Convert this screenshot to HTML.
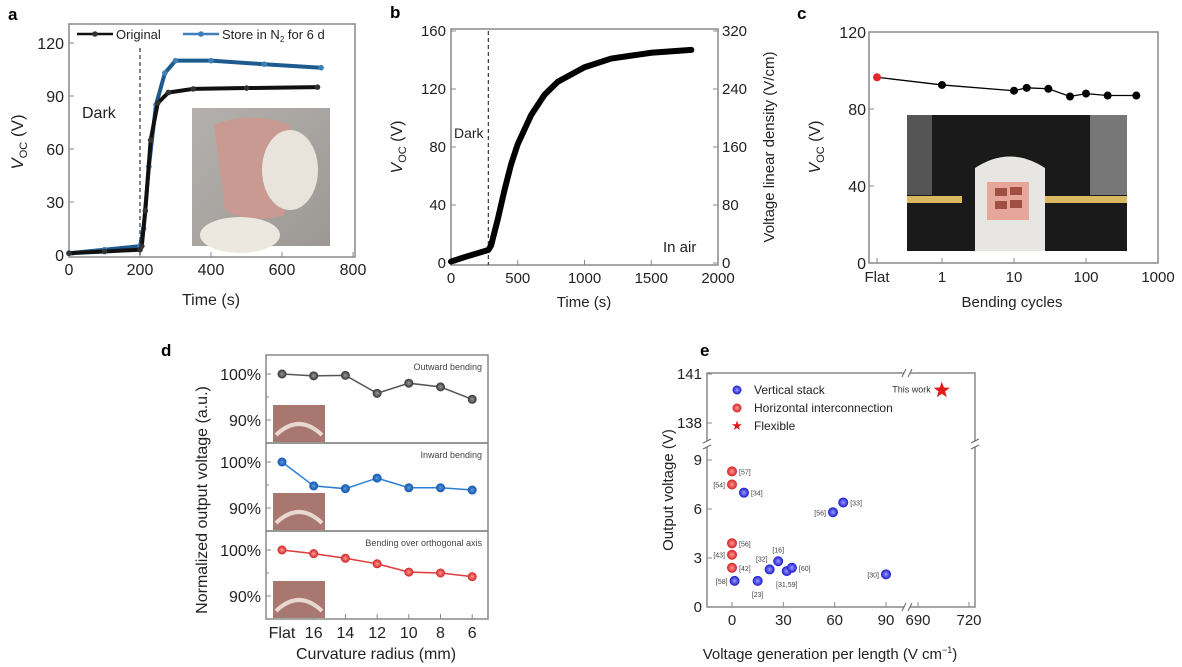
<!DOCTYPE html>
<html><head><meta charset="utf-8"><style>
body{margin:0;background:#fff}
svg{display:block;font-family:"Liberation Sans",Arial,sans-serif}
</style></head><body>
<svg id="fig" width="1182" height="667" viewBox="0 0 1182 667" xmlns="http://www.w3.org/2000/svg">
<defs>
<linearGradient id="photoA" x1="0" y1="0" x2="1" y2="1"><stop offset="0" stop-color="#b4b0ad"/><stop offset="1" stop-color="#9c9894"/></linearGradient>
<radialGradient id="ballK"><stop offset="0" stop-color="#999"/><stop offset="1" stop-color="#333"/></radialGradient>
<radialGradient id="ballB"><stop offset="0" stop-color="#8ab"/><stop offset="0.3" stop-color="#3a7fd0"/><stop offset="1" stop-color="#1257b0"/></radialGradient>
<radialGradient id="ballR"><stop offset="0" stop-color="#f99"/><stop offset="1" stop-color="#d42020"/></radialGradient>
<radialGradient id="ballV"><stop offset="0" stop-color="#99f"/><stop offset="1" stop-color="#1a1acc"/></radialGradient>
</defs>
<g id="pa"></g>
<g id="pb"></g>
<g id="pc"></g>
<g id="pd"></g>
<g id="pe"></g>
</svg>
<script>
// ---- Panel a data ----
const aTime = [0, 100, 200, 205, 215, 230, 250, 280, 350, 500, 700];
const aOriginal = [1, 2, 3, 5, 25, 65, 86, 92, 94, 94.5, 95];
const aStoredTime = [0, 100, 200, 210, 225, 245, 270, 300, 400, 550, 710];
const aStored = [1, 3, 5, 15, 50, 85, 103, 110, 110, 108, 106];
const aXTicks = [0, 200, 400, 600, 800];
const aYTicks = [0, 30, 60, 90, 120];
// ---- Panel b data ----
const bTime = [0, 100, 280, 300, 350, 400, 450, 500, 600, 700, 800, 1000, 1200, 1500, 1800];
const bVoc = [1, 4, 9, 12, 30, 50, 68, 82, 102, 116, 125, 135, 141, 145, 147];
const bXTicks = [0, 500, 1000, 1500, 2000];
const bYTicks = [0, 40, 80, 120, 160];
const bY2Ticks = [0, 80, 160, 240, 320];
// ---- Panel c data ----
const cCycles = [0, 1, 10, 15, 30, 60, 100, 200, 500];
const cVoc = [96.5, 92.5, 89.5, 91, 90.5, 86.5, 88, 87, 87];
const cXTicks = ["Flat", "1", "10", "100", "1000"];
const cYTicks = [0, 40, 80, 120];
// ---- Panel d data ----
const dCats = ["Flat", "16", "14", "12", "10", "8", "6"];
const dOutward = [100, 99.6, 99.7, 95.8, 98, 97.2, 94.5];
const dInward = [100, 94.8, 94.2, 96.5, 94.4, 94.4, 93.9];
const dOrtho = [100, 99.2, 98.2, 97, 95.2, 95, 94.2];
// ---- Panel e data ----
const eVertX = [1.5, 7, 59, 65, 15, 22, 27, 32, 35, 90];
const eVertY = [1.6, 7, 5.8, 6.4, 1.6, 2.3, 2.8, 2.2, 2.4, 2.0];
const eVertLab = ["[58]", "[34]", "[56]", "[33]", "[23]", "[32]", "[16]", "[31,59]", "[60]", "[30]"];
const eHorX = [0, 0, 0, 0, 0];
const eHorY = [8.3, 7.5, 3.9, 3.2, 2.4];
const eHorLab = ["[57]", "[54]", "[56]", "[43]", "[42]"];
const eStarX = [704];
const eStarY = [140];

const NS = "http://www.w3.org/2000/svg";
function mk(parent, tag, attrs, text) {
  const e = document.createElementNS(NS, tag);
  for (const k in attrs) e.setAttribute(k, attrs[k]);
  if (text !== undefined) e.textContent = text;
  parent.appendChild(e);
  return e;
}
function lin(d0, d1, r0, r1) { return v => r0 + (v - d0) / (d1 - d0) * (r1 - r0); }
const TX = "#222", BOX = "#888";

// ===== Panel a =====
(function () {
  const g = document.getElementById('pa');
  const x = lin(0, 800, 69, 353), y = lin(0, 120, 255, 43);
  let t = mk(g, 'text', { x: 8, y: 20, 'font-size': 17, 'font-weight': 'bold', fill: '#000' }, 'a');
   
  const bx = mk(g, 'rect', { x: 69, y: 24, width: 286, height: 233, fill: 'none', stroke: BOX, 'stroke-width': 1.5 });
   
  const ph = mk(g, 'rect', { x: 192, y: 108, width: 138, height: 138, fill: 'url(#photoA)' });
   
  mk(g, 'path', { d: 'M214 125 Q250 110 290 125 L285 215 Q250 225 225 210 Z', fill: '#c99a92' });
  mk(g, 'ellipse', { cx: 290, cy: 170, rx: 28, ry: 40, fill: '#e8e4dc' });
  mk(g, 'ellipse', { cx: 240, cy: 235, rx: 40, ry: 18, fill: '#ece8e0' });
  aXTicks.forEach(v => {
    mk(g, 'line', { x1: x(v), y1: 257, x2: x(v), y2: 252, stroke: BOX });
    const l = mk(g, 'text', { x: x(v), y: 275, 'font-size': 16, 'text-anchor': 'middle', fill: TX }, v);
     
  });
  aYTicks.forEach(v => {
    mk(g, 'line', { x1: 69, y1: y(v), x2: 74, y2: y(v), stroke: BOX });
    const l = mk(g, 'text', { x: 64, y: y(v) + 6, 'font-size': 16, 'text-anchor': 'end', fill: TX }, v);
     
  });
  mk(g, 'line', { x1: x(200), y1: 48, x2: x(200), y2: 257, stroke: '#444', 'stroke-dasharray': '4,3', 'stroke-width': 1.3 });
  const dk = mk(g, 'text', { x: 82, y: 118, 'font-size': 16, fill: TX }, 'Dark');
   
  const yt = mk(g, 'text', { transform: 'translate(23,142) rotate(-90)', 'font-size': 17, 'text-anchor': 'middle', fill: TX });
  yt.innerHTML = '<tspan font-style="italic">V</tspan><tspan font-size="11" dy="4">OC</tspan><tspan dy="-4"> (V)</tspan>';
   
  const xt = mk(g, 'text', { x: 211, y: 305, 'font-size': 16, 'text-anchor': 'middle', fill: TX }, 'Time (s)');
   
  const s2 = mk(g, 'polyline', { points: aStoredTime.map((v, i) => x(v) + ',' + y(aStored[i])).join(' '), fill: 'none', stroke: '#1d5a8e', 'stroke-width': 4 });
   
  aStoredTime.forEach((v, i) => { const c = mk(g, 'circle', { cx: x(v), cy: y(aStored[i]), r: 2.8, fill: '#3d7fb8' });   });
  const s1 = mk(g, 'polyline', { points: aTime.map((v, i) => x(v) + ',' + y(aOriginal[i])).join(' '), fill: 'none', stroke: '#111', 'stroke-width': 4 });
   
  aTime.forEach((v, i) => { const c = mk(g, 'circle', { cx: x(v), cy: y(aOriginal[i]), r: 2.8, fill: '#333' });   });
  // legend
  const lg = mk(g, 'g', {});  
  mk(lg, 'line', { x1: 77, y1: 34, x2: 113, y2: 34, stroke: '#111', 'stroke-width': 2.5 });
  mk(lg, 'circle', { cx: 95, cy: 34, r: 2.8, fill: '#333' });
  mk(lg, 'text', { x: 116, y: 39, 'font-size': 13, fill: TX }, 'Original');
  mk(lg, 'line', { x1: 183, y1: 34, x2: 219, y2: 34, stroke: '#3d7fb8', 'stroke-width': 2.5 });
  mk(lg, 'circle', { cx: 201, cy: 34, r: 2.8, fill: '#3d7fb8' });
  const st = mk(lg, 'text', { x: 222, y: 39, 'font-size': 13, fill: TX });
  st.innerHTML = 'Store in N<tspan font-size="8" dy="3">2</tspan><tspan dy="-3"> for 6 d</tspan>';
})();

// ===== Panel b =====
(function () {
  const g = document.getElementById('pb');
  const x = lin(0, 2000, 451, 718), y = lin(0, 160, 263, 31);
  let t = mk(g, 'text', { x: 390, y: 18, 'font-size': 17, 'font-weight': 'bold', fill: '#000' }, 'b');
   
  const bx = mk(g, 'rect', { x: 451, y: 29, width: 267, height: 236, fill: 'none', stroke: BOX, 'stroke-width': 1.5 });
   
  bXTicks.forEach(v => {
    mk(g, 'line', { x1: x(v), y1: 265, x2: x(v), y2: 260, stroke: BOX });
    const l = mk(g, 'text', { x: x(v), y: 283, 'font-size': 15, 'text-anchor': 'middle', fill: TX }, v);
     
  });
  bYTicks.forEach(v => {
    mk(g, 'line', { x1: 451, y1: y(v), x2: 456, y2: y(v), stroke: BOX });
    const l = mk(g, 'text', { x: 446, y: y(v) + 5, 'font-size': 15, 'text-anchor': 'end', fill: TX }, v);
     
  });
  bY2Ticks.forEach((v, i) => {
    const yy = y(bYTicks[i]);
    mk(g, 'line', { x1: 718, y1: yy, x2: 713, y2: yy, stroke: BOX });
    const l = mk(g, 'text', { x: 722, y: yy + 5, 'font-size': 15, fill: TX }, v);
     
  });
  mk(g, 'line', { x1: x(280), y1: 31, x2: x(280), y2: 265, stroke: '#444', 'stroke-dasharray': '4,3', 'stroke-width': 1.3 });
  const dk = mk(g, 'text', { x: 454, y: 138, 'font-size': 14, fill: TX }, 'Dark');
   
  const ia = mk(g, 'text', { x: 663, y: 252, 'font-size': 15, fill: TX }, 'In air');
   
  const s = mk(g, 'polyline', { points: bTime.map((v, i) => x(v) + ',' + y(bVoc[i])).join(' '), fill: 'none', stroke: '#000', 'stroke-width': 6, 'stroke-linejoin': 'round', 'stroke-linecap': 'round' });
   
  const yt = mk(g, 'text', { transform: 'translate(402,147) rotate(-90)', 'font-size': 16, 'text-anchor': 'middle', fill: TX });
  yt.innerHTML = '<tspan font-style="italic">V</tspan><tspan font-size="11" dy="4">OC</tspan><tspan dy="-4"> (V)</tspan>';
   
  const y2 = mk(g, 'text', { transform: 'translate(774,147) rotate(-90)', 'font-size': 15, 'text-anchor': 'middle', fill: TX }, 'Voltage linear density (V/cm)');
   
  const xt = mk(g, 'text', { x: 584, y: 307, 'font-size': 15, 'text-anchor': 'middle', fill: TX }, 'Time (s)');
   
})();

// ===== Panel c =====
(function () {
  const g = document.getElementById('pc');
  const y = lin(0, 120, 263, 32);
  const x = v => v === 0 ? 877 : 942 + Math.log10(v) * 72;
  let t = mk(g, 'text', { x: 797, y: 19, 'font-size': 17, 'font-weight': 'bold', fill: '#000' }, 'c');
   
  const bx = mk(g, 'rect', { x: 869, y: 32, width: 289, height: 231, fill: 'none', stroke: BOX, 'stroke-width': 1.5 });
   
  const ph = mk(g, 'rect', { x: 907, y: 115, width: 220, height: 136, fill: '#1a1a1a' });
   
  mk(g, 'rect', { x: 907, y: 115, width: 25, height: 80, fill: '#555' });
  mk(g, 'rect', { x: 1090, y: 115, width: 37, height: 80, fill: '#777' });
  mk(g, 'path', { d: 'M975 168 Q1010 145 1045 168 L1045 251 L975 251 Z', fill: '#e8e6e2' });
  mk(g, 'rect', { x: 907, y: 196, width: 55, height: 7, fill: '#d8b860' });
  mk(g, 'rect', { x: 1045, y: 196, width: 82, height: 7, fill: '#d8b860' });
  mk(g, 'rect', { x: 987, y: 182, width: 42, height: 38, fill: '#e6a69a' });
  mk(g, 'rect', { x: 995, y: 188, width: 12, height: 8, fill: '#a05040' });
  mk(g, 'rect', { x: 1010, y: 187, width: 12, height: 8, fill: '#a05040' });
  mk(g, 'rect', { x: 995, y: 201, width: 12, height: 8, fill: '#a05040' });
  mk(g, 'rect', { x: 1010, y: 200, width: 12, height: 8, fill: '#a05040' });
  cXTicks.forEach((lab, i) => {
    const xx = i === 0 ? 877 : x(Math.pow(10, i - 1));
    mk(g, 'line', { x1: xx, y1: 263, x2: xx, y2: 258, stroke: BOX });
    const l = mk(g, 'text', { x: xx, y: 282, 'font-size': 15, 'text-anchor': 'middle', fill: TX }, lab);
     
  });
  cYTicks.forEach(v => {
    mk(g, 'line', { x1: 869, y1: y(v), x2: 874, y2: y(v), stroke: BOX });
    const l = mk(g, 'text', { x: 866, y: y(v) + 6, 'font-size': 16, 'text-anchor': 'end', fill: TX }, v);
     
  });
  const s = mk(g, 'polyline', { points: cCycles.map((v, i) => x(v) + ',' + y(cVoc[i])).join(' '), fill: 'none', stroke: '#000', 'stroke-width': 1.3 });
   
  cCycles.forEach((v, i) => {
    const c = mk(g, 'circle', { cx: x(v), cy: y(cVoc[i]), r: 4, fill: i === 0 ? '#e8252a' : '#000' });
     
  });
  const yt = mk(g, 'text', { transform: 'translate(820,147) rotate(-90)', 'font-size': 16, 'text-anchor': 'middle', fill: TX });
  yt.innerHTML = '<tspan font-style="italic">V</tspan><tspan font-size="11" dy="4">OC</tspan><tspan dy="-4"> (V)</tspan>';
   
  const xt = mk(g, 'text', { x: 1012, y: 307, 'font-size': 15, 'text-anchor': 'middle', fill: TX }, 'Bending cycles');
   
})();

// ===== Panel d =====
(function () {
  const g = document.getElementById('pd');
  const x = i => 282 + i * 31.7;
  let t = mk(g, 'text', { x: 161, y: 356, 'font-size': 17, 'font-weight': 'bold', fill: '#000' }, 'd');
   
  const tops = [355, 443, 531];
  const series = [dOutward, dInward, dOrtho];
  const colors = ['#555', '#2a7fd4', '#e03a3a'];
  const fills = ['url(#ballK)', 'url(#ballB)', 'url(#ballR)'];
  const titles = ['Outward bending', 'Inward bending', 'Bending over orthogonal axis'];
  const names = ['outward', 'inward', 'orthogonal'];
  tops.forEach((tp, k) => {
    const y = lin(90, 100, tp + 65, tp + 19);
    const bx = mk(g, 'rect', { x: 266, y: tp, width: 222, height: 88, fill: 'none', stroke: BOX, 'stroke-width': 1.5 });
     
    const ph = mk(g, 'rect', { x: 273, y: tp + 50, width: 52, height: 37, fill: '#a87870' });
     
    mk(g, 'path', { d: `M276 ${tp + 80} Q299 ${tp + 58} 322 ${tp + 80}`, fill: 'none', stroke: '#e8d8d0', 'stroke-width': 4 });
    [100, 90].forEach(v => {
      mk(g, 'line', { x1: 266, y1: y(v), x2: 271, y2: y(v), stroke: BOX });
      const l = mk(g, 'text', { x: 261, y: y(v) + 6, 'font-size': 16, 'text-anchor': 'end', fill: TX }, v + '%');
       
    });
    mk(g, 'line', { x1: 266, y1: y(95), x2: 269, y2: y(95), stroke: BOX });
    const tt = mk(g, 'text', { x: 482, y: tp + 15, 'font-size': 9, 'text-anchor': 'end', fill: '#444' }, titles[k]);
     
    const vals = series[k];
    const pl = mk(g, 'polyline', { points: vals.map((v, i) => x(i) + ',' + y(v)).join(' '), fill: 'none', stroke: colors[k], 'stroke-width': 1.5 });
     
    vals.forEach((v, i) => {
      const c = mk(g, 'circle', { cx: x(i), cy: y(v), r: 4.5, fill: fills[k] });
       
    });
  });
  dCats.forEach((c, i) => {
    mk(g, 'line', { x1: x(i), y1: 619, x2: x(i), y2: 614, stroke: BOX });
    const l = mk(g, 'text', { x: x(i), y: 638, 'font-size': 16, 'text-anchor': 'middle', fill: TX }, c);
     
  });
  const yt = mk(g, 'text', { transform: 'translate(207,500) rotate(-90)', 'font-size': 16, 'text-anchor': 'middle', fill: TX }, 'Normalized output voltage (a.u.)');
   
  const xt = mk(g, 'text', { x: 376, y: 659, 'font-size': 16, 'text-anchor': 'middle', fill: TX }, 'Curvature radius (mm)');
   
})();

// ===== Panel e =====
(function () {
  const g = document.getElementById('pe');
  const xl = lin(0, 90, 732, 886), xu = lin(690, 720, 918, 969);
  const yl = lin(0, 9, 607, 460), yu = lin(138, 141, 423, 374);
  let t = mk(g, 'text', { x: 700, y: 356, 'font-size': 17, 'font-weight': 'bold', fill: '#000' }, 'e');
   
  const bx = mk(g, 'rect', { x: 707, y: 373, width: 268, height: 234, fill: 'none', stroke: BOX, 'stroke-width': 1.5 });
   
  // axis break marks
  [[907, 607], [907, 373]].forEach(p => {
    mk(g, 'rect', { x: p[0] - 3, y: p[1] - 3, width: 6, height: 6, fill: '#fff' });
    mk(g, 'path', { d: `M${p[0] - 5} ${p[1] + 4} L${p[0] - 1} ${p[1] - 4} M${p[0] + 1} ${p[1] + 4} L${p[0] + 5} ${p[1] - 4}`, stroke: '#666', 'stroke-width': 1 });
  });
  [[707, 444], [975, 444]].forEach(p => {
    mk(g, 'rect', { x: p[0] - 3, y: p[1] - 3, width: 6, height: 6, fill: '#fff' });
    mk(g, 'path', { d: `M${p[0] - 4} ${p[1] - 1} L${p[0] + 4} ${p[1] - 5} M${p[0] - 4} ${p[1] + 5} L${p[0] + 4} ${p[1] + 1}`, stroke: '#666', 'stroke-width': 1 });
  });
  [0, 30, 60, 90].forEach(v => {
    mk(g, 'line', { x1: xl(v), y1: 607, x2: xl(v), y2: 602, stroke: BOX });
    const l = mk(g, 'text', { x: xl(v), y: 625, 'font-size': 15, 'text-anchor': 'middle', fill: TX }, v);
     
  });
  [690, 720].forEach(v => {
    mk(g, 'line', { x1: xu(v), y1: 607, x2: xu(v), y2: 602, stroke: BOX });
    const l = mk(g, 'text', { x: xu(v), y: 625, 'font-size': 15, 'text-anchor': 'middle', fill: TX }, v);
     
  });
  [0, 3, 6, 9].forEach(v => {
    mk(g, 'line', { x1: 707, y1: yl(v), x2: 712, y2: yl(v), stroke: BOX });
    const l = mk(g, 'text', { x: 702, y: yl(v) + 5, 'font-size': 15, 'text-anchor': 'end', fill: TX }, v);
     
  });
  [138, 141].forEach(v => {
    mk(g, 'line', { x1: 707, y1: yu(v), x2: 712, y2: yu(v), stroke: BOX });
    const l = mk(g, 'text', { x: 702, y: yu(v) + 5, 'font-size': 15, 'text-anchor': 'end', fill: TX }, v);
     
  });
  eVertX.forEach((v, i) => {
    const c = mk(g, 'circle', { cx: xl(v), cy: yl(eVertY[i]), r: 5, fill: 'url(#ballV)' });
     
    const left = (eVertLab[i] === '[58]' || eVertLab[i] === '[56]' || eVertLab[i] === '[30]' || eVertLab[i] === '[32]');
    const below = (eVertLab[i] === '[23]' || eVertLab[i] === '[31,59]');
    const above = eVertLab[i] === '[16]';
    let lx = xl(v) + 7, ly = yl(eVertY[i]) + 3, anc = 'start';
    if (left) { lx = xl(v) - 7; anc = 'end'; }
    if (below) { lx = xl(v); ly = yl(eVertY[i]) + 16; anc = 'middle'; }
    if (above) { lx = xl(v); ly = yl(eVertY[i]) - 9; anc = 'middle'; }
    if (eVertLab[i] === '[32]') { lx = xl(v) - 2; ly = yl(eVertY[i]) - 8; }
    const l = mk(g, 'text', { x: lx, y: ly, 'font-size': 7, 'text-anchor': anc, fill: '#444' }, eVertLab[i]);
     
  });
  eHorX.forEach((v, i) => {
    const c = mk(g, 'circle', { cx: xl(v), cy: yl(eHorY[i]), r: 5, fill: 'url(#ballR)' });
     
    const left = (eHorLab[i] === '[54]' || eHorLab[i] === '[43]');
    const l = mk(g, 'text', { x: left ? xl(v) - 7 : xl(v) + 7, y: yl(eHorY[i]) + 3, 'font-size': 7, 'text-anchor': left ? 'end' : 'start', fill: '#444' }, eHorLab[i]);
     
  });
  eStarX.forEach((v, i) => {
    const cx = xu(v), cy = yu(eStarY[i]);
    let pts = [];
    for (let k = 0; k < 10; k++) { const r = k % 2 ? 3.5 : 8.5, a = -Math.PI / 2 + k * Math.PI / 5; pts.push((cx + r * Math.cos(a)).toFixed(1) + ',' + (cy + r * Math.sin(a)).toFixed(1)); }
    const s = mk(g, 'polygon', { points: pts.join(' '), fill: '#e01818' });
     
    const l = mk(g, 'text', { x: cx - 11, y: cy + 2, 'font-size': 9, 'text-anchor': 'end', fill: '#333' }, 'This work');
     
  });
  const lg = mk(g, 'g', {});  
  mk(lg, 'circle', { cx: 737, cy: 390, r: 4.5, fill: 'url(#ballV)' });
  mk(lg, 'text', { x: 754, y: 394, 'font-size': 12, fill: TX }, 'Vertical stack');
  mk(lg, 'circle', { cx: 737, cy: 408, r: 4.5, fill: 'url(#ballR)' });
  mk(lg, 'text', { x: 754, y: 412, 'font-size': 12, fill: TX }, 'Horizontal interconnection');
  mk(lg, 'text', { x: 737, y: 430, 'font-size': 13, 'text-anchor': 'middle', fill: '#e01818' }, '★');
  mk(lg, 'text', { x: 754, y: 430, 'font-size': 12, fill: TX }, 'Flexible');
  const yt = mk(g, 'text', { transform: 'translate(673,490) rotate(-90)', 'font-size': 15, 'text-anchor': 'middle', fill: TX }, 'Output voltage (V)');
   
  const xt = mk(g, 'text', { x: 830, y: 659, 'font-size': 15, 'text-anchor': 'middle', fill: TX });
  xt.innerHTML = 'Voltage generation per length (V cm<tspan font-size="9" dy="-6">−1</tspan><tspan dy="6">)</tspan>';
   
})();
</script>
</body></html>
